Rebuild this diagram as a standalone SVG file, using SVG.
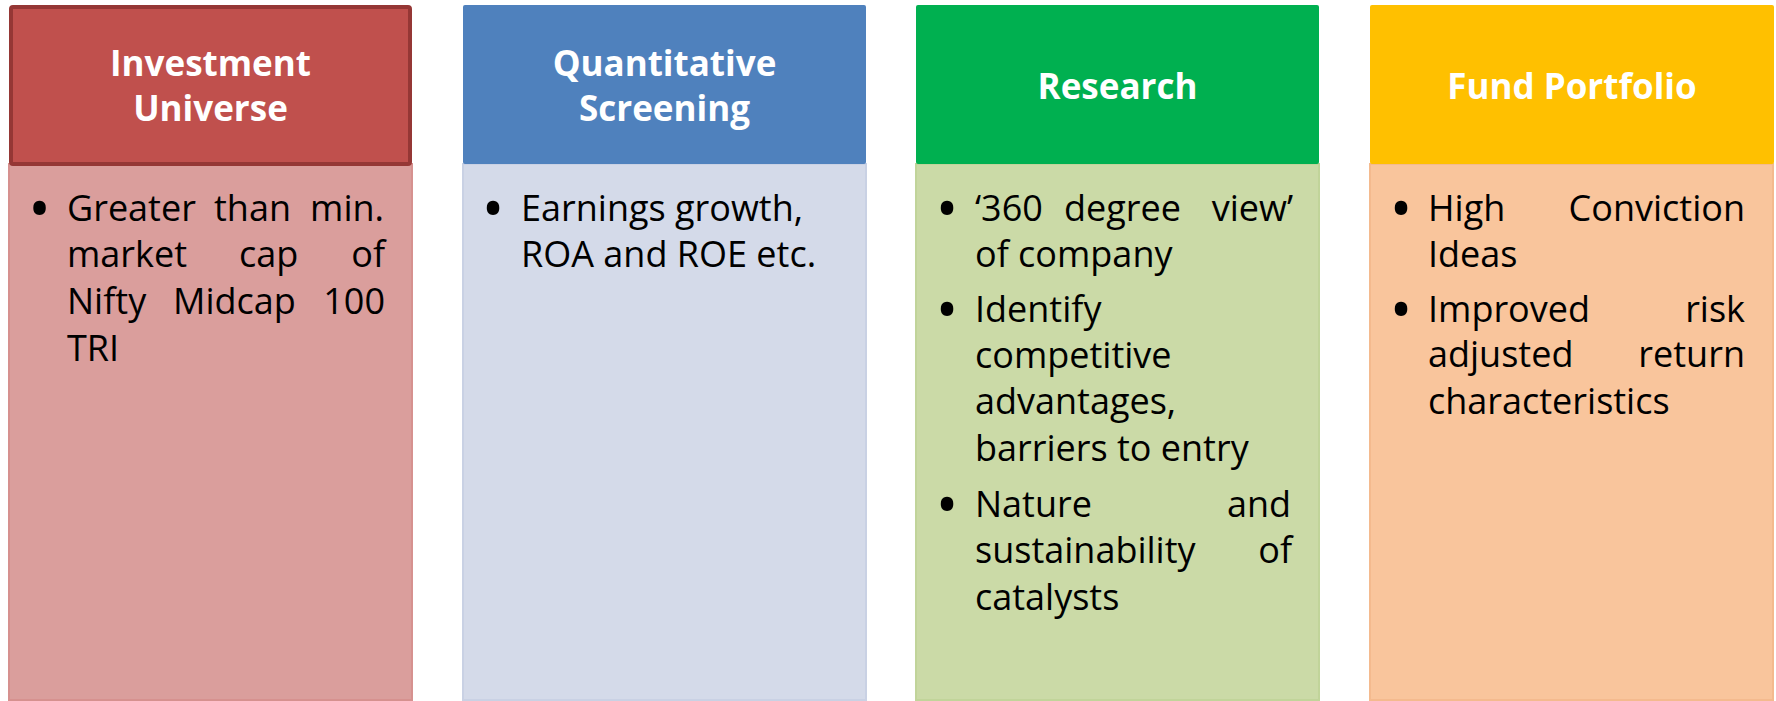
<svg xmlns="http://www.w3.org/2000/svg" width="1776" height="701" viewBox="0 0 1776 701">
<style>
.h{font-family:"Open Sans","Liberation Sans",sans-serif;font-weight:bold;font-size:35px;fill:#fff;text-anchor:middle}
.t{font-family:"Open Sans","Liberation Sans",sans-serif;font-size:36px;fill:#000}
.e{text-anchor:end}
.b{font-family:"Open Sans","Liberation Sans",sans-serif;font-size:60px;fill:#000;text-anchor:middle}
</style>
<rect width="1776" height="701" fill="#fff"/>
<g id="investment-universe">
<rect x="9" y="164" width="403" height="536" fill="#DA9E9C" stroke="#D6918F" stroke-width="2"/>
<rect x="11" y="7" width="399" height="157" rx="2" fill="#C0504D" stroke="#953735" stroke-width="4"/>
<text class="h" x="210.5" y="76">Investment</text>
<text class="h" x="210.5" y="121">Universe</text>
<text class="b" x="39.5" y="230">•</text>
<text class="t" x="67" y="221">Greater</text><text class="t" x="214" y="221">than</text><text class="t e" x="384" y="221">min.</text>
<text class="t" x="67" y="267">market</text><text class="t" x="239" y="267">cap</text><text class="t e" x="385" y="267">of</text>
<text class="t" x="67" y="314">Nifty</text><text class="t" x="173" y="314">Midcap</text><text class="t e" x="385" y="314">100</text>
<text class="t" x="67" y="361">TRI</text>
</g>
<g id="quantitative-screening">
<rect x="463" y="164" width="403" height="536" fill="#D4DAE9" stroke="#C9D1E4" stroke-width="2"/>
<rect x="463" y="5" width="403" height="159" rx="2" fill="#4F81BD"/>
<text class="h" x="664.5" y="76">Quantitative</text>
<text class="h" x="664.5" y="121">Screening</text>
<text class="b" x="493" y="230">•</text>
<text class="t" x="521" y="221">Earnings growth,</text>
<text class="t" x="521" y="267">ROA and ROE etc.</text>
</g>
<g id="research">
<rect x="916" y="164" width="403" height="536" fill="#CBDAA7" stroke="#C1D49A" stroke-width="2"/>
<rect x="916" y="5" width="403" height="159" rx="2" fill="#00B050"/>
<text class="h" x="1117.5" y="99">Research</text>
<text class="b" x="947" y="230">•</text>
<text class="t" x="975" y="221">‘360</text><text class="t" x="1064" y="221">degree</text><text class="t e" x="1293" y="221">view’</text>
<text class="t" x="975" y="267">of company</text>
<text class="b" x="947" y="331">•</text>
<text class="t" x="975" y="322">Identify</text>
<text class="t" x="975" y="368">competitive</text>
<text class="t" x="975" y="414">advantages,</text>
<text class="t" x="975" y="461">barriers to entry</text>
<text class="b" x="947" y="526">•</text>
<text class="t" x="975" y="517">Nature</text><text class="t e" x="1291" y="517">and</text>
<text class="t" x="975" y="563">sustainability</text><text class="t e" x="1292" y="563">of</text>
<text class="t" x="975" y="610">catalysts</text>
</g>
<g id="fund-portfolio">
<rect x="1370" y="164" width="403" height="536" fill="#F9C59C" stroke="#F4BA8E" stroke-width="2"/>
<rect x="1370" y="5" width="404" height="159" rx="2" fill="#FFC000"/>
<text class="h" x="1572" y="99">Fund Portfolio</text>
<text class="b" x="1401" y="230">•</text>
<text class="t" x="1428" y="221">High</text><text class="t e" x="1745" y="221">Conviction</text>
<text class="t" x="1428" y="267">Ideas</text>
<text class="b" x="1401" y="331">•</text>
<text class="t" x="1428" y="322">Improved</text><text class="t e" x="1745" y="322">risk</text>
<text class="t" x="1428" y="367">adjusted</text><text class="t e" x="1745" y="367">return</text>
<text class="t" x="1428" y="414">characteristics</text>
</g>
<g id="connectors"></g>
</svg>
